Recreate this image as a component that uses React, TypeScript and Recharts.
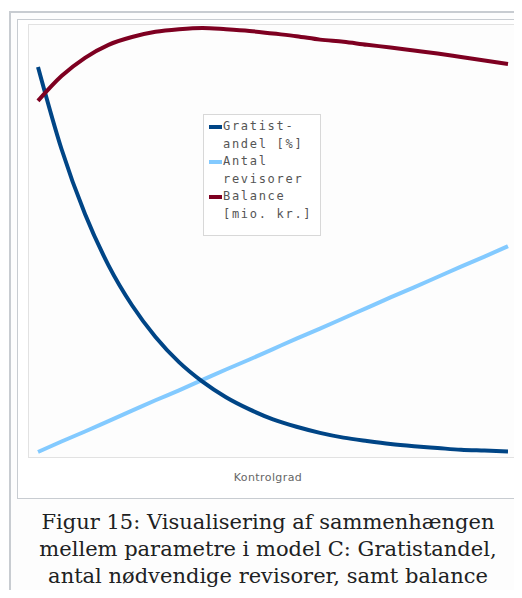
import React from 'react';
import { LineChart, Line, XAxis, YAxis } from 'recharts';

// Kontrolgrad (x), relative levels 0-100 for each series
const kontrolgrad: number[] = [0, 5, 10, 15, 20, 25, 30, 35, 40, 45, 50, 55, 60, 65, 70, 75, 80, 85, 90, 95, 100];
const gratistandel: number[] = [90.1, 71.2, 56.2, 44.4, 35.2, 27.9, 22.1, 17.6, 14.0, 11.2, 8.9, 7.2, 5.8, 4.7, 3.9, 3.2, 2.7, 2.3, 1.9, 1.7, 1.5];
const antalRevisorer: number[] = [1.4, 3.8, 6.1, 8.5, 10.9, 13.3, 15.6, 18.0, 20.4, 22.7, 25.1, 27.5, 29.8, 32.2, 34.6, 37.0, 39.3, 41.7, 44.1, 46.4, 48.8];
const balance: number[] = [82.3, 88.0, 92.2, 95.2, 97.0, 98.2, 98.8, 99.1, 98.8, 98.4, 97.8, 97.2, 96.4, 95.9, 95.2, 94.6, 93.9, 93.2, 92.4, 91.6, 90.8];

const legendItems = [
  { label: ['Gratist-', 'andel [%]'], color: '#004586' },
  { label: ['Antal', 'revisorer'], color: '#83caff' },
  { label: ['Balance', '[mio. kr.]'], color: '#7e0021' },
];

const captionLines: string[] = [
  'Figur 15: Visualisering af sammenhængen',
  'mellem parametre i model C: Gratistandel,',
  'antal nødvendige revisorer, samt balance',
];

const data = kontrolgrad.map((k, i) => ({
  k,
  gratist: gratistandel[i],
  antal: antalRevisorer[i],
  balance: balance[i],
}));

export default function App() {
  return (
    <div style={{ position: 'relative', margin: -8, width: 522, height: 598, overflow: 'hidden', background: '#fff' }}>
      {/* outer thumb frame */}
      <div style={{ position: 'absolute', left: 9, top: 11, width: 540, height: 620, border: '2px solid #c8ccd1', background: '#fdfdfd', boxSizing: 'border-box' }} />
      {/* image box */}
      <div style={{ position: 'absolute', left: 17, top: 19, width: 530, height: 480, border: '1px solid #c8ccd1', background: '#fff', boxSizing: 'border-box' }} />
      {/* plot box */}
      <div style={{ position: 'absolute', left: 28, top: 24, width: 492, height: 434, border: '1px solid #e2e2e2', background: '#fdfdfd', boxSizing: 'border-box' }} />
      <div style={{ position: 'absolute', left: 28, top: 24 }}>
        <LineChart width={492} height={434} data={data} margin={{ top: 0, right: 0, bottom: 0, left: 0 }}>
          <XAxis dataKey="k" type="number" domain={[0, 100]} hide padding={{ left: 10, right: 12 }} />
          <YAxis type="number" domain={[0, 100]} hide />
          <Line type="monotone" dataKey="antal" stroke="#83caff" strokeWidth={4} dot={false} isAnimationActive={false} />
          <Line type="monotone" dataKey="gratist" stroke="#004586" strokeWidth={4} dot={false} isAnimationActive={false} />
          <Line type="monotone" dataKey="balance" stroke="#7e0021" strokeWidth={4} dot={false} isAnimationActive={false} />
        </LineChart>
      </div>
      {/* legend */}
      <div style={{ position: 'absolute', left: 203, top: 114, width: 118, height: 122, border: '1px solid #d8d8d8', background: '#fff', boxSizing: 'border-box', fontFamily: '"DejaVu Sans Mono", monospace', fontSize: 12, letterSpacing: 1.7, color: '#555', lineHeight: '17.6px', paddingTop: 3 }}>
        {legendItems.map((it) => (
          <div key={it.label[0]} style={{ display: 'flex' }}>
            <div style={{ width: 13, height: 4, background: it.color, marginLeft: 5, marginTop: 7, marginRight: 1, flexShrink: 0 }} />
            <div>
              {it.label.map((l) => (
                <div key={l}>{l}</div>
              ))}
            </div>
          </div>
        ))}
      </div>
      {/* axis title */}
      <div style={{ position: 'absolute', left: 28, top: 471, width: 480, textAlign: 'center', fontFamily: '"DejaVu Sans", sans-serif', fontSize: 11, color: '#666', letterSpacing: 0.4 }}>
        Kontrolgrad
      </div>
      {/* caption */}
      <div style={{ position: 'absolute', left: 17, top: 509, width: 502, textAlign: 'center', fontFamily: '"DejaVu Serif", serif', fontSize: 21, lineHeight: '27px', color: '#202122' }}>
        {captionLines.map((l) => (
          <div key={l}>{l}</div>
        ))}
      </div>
    </div>
  );
}
